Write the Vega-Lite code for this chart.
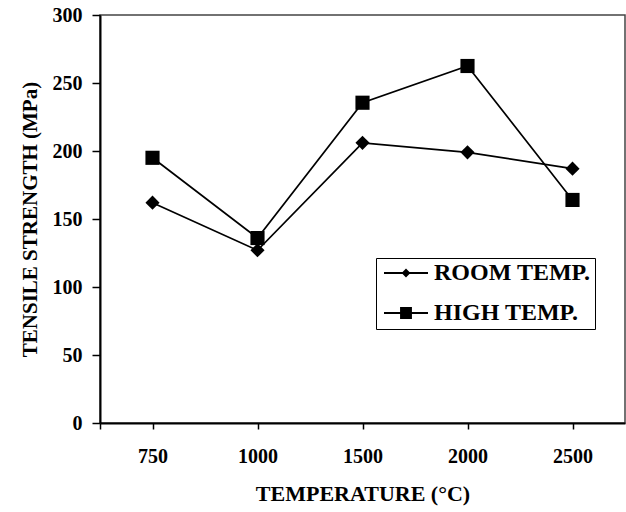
{
  "$schema": "https://vega.github.io/schema/vega-lite/v6.json",
  "width": 525,
  "height": 408,
  "autosize": "none",
  "padding": {"left": 100, "top": 15, "right": 1, "bottom": 89},
  "background": "white",
  "config": {
    "view": {"stroke": "#444", "strokeWidth": 1.5},
    "font": "Liberation Serif"
  },
  "data": {
    "values": [
      {"temperature": "750", "series": "ROOM TEMP.", "strength": 162},
      {"temperature": "1000", "series": "ROOM TEMP.", "strength": 127},
      {"temperature": "1500", "series": "ROOM TEMP.", "strength": 206},
      {"temperature": "2000", "series": "ROOM TEMP.", "strength": 199},
      {"temperature": "2500", "series": "ROOM TEMP.", "strength": 187},
      {"temperature": "750", "series": "HIGH TEMP.", "strength": 195},
      {"temperature": "1000", "series": "HIGH TEMP.", "strength": 136},
      {"temperature": "1500", "series": "HIGH TEMP.", "strength": 235.5},
      {"temperature": "2000", "series": "HIGH TEMP.", "strength": 262.5},
      {"temperature": "2500", "series": "HIGH TEMP.", "strength": 164}
    ]
  },
  "encoding": {
    "x": {
      "field": "temperature",
      "type": "ordinal",
      "sort": ["750", "1000", "1500", "2000", "2500"],
      "scale": {"paddingInner": 0, "paddingOuter": 0},
      "axis": {
        "title": "TEMPERATURE (°C)",
        "labelAngle": 0,
        "bandPosition": 0,
        "tickExtra": true,
        "domainColor": "black",
        "domainWidth": 2,
        "tickColor": "black",
        "tickWidth": 1.5,
        "tickSize": 6,
        "labelPadding": 17,
        "labelFont": "Liberation Serif",
        "labelFontWeight": "bold",
        "labelFontSize": 20,
        "labelColor": "black",
        "titleFont": "Liberation Serif",
        "titleFontWeight": "bold",
        "titleFontSize": 22,
        "titleColor": "black",
        "titlePadding": 17
      }
    },
    "y": {
      "field": "strength",
      "type": "quantitative",
      "scale": {"domain": [0, 300], "nice": false},
      "axis": {
        "title": "TENSILE STRENGTH (MPa)",
        "values": [0, 50, 100, 150, 200, 250, 300],
        "grid": false,
        "domainColor": "black",
        "domainWidth": 2,
        "tickColor": "black",
        "tickWidth": 1.5,
        "tickSize": 8,
        "labelPadding": 10,
        "labelFont": "Liberation Serif",
        "labelFontWeight": "bold",
        "labelFontSize": 20,
        "labelColor": "black",
        "titleFont": "Liberation Serif",
        "titleFontWeight": "bold",
        "titleFontSize": 21,
        "titleColor": "black",
        "titlePadding": 12
      }
    }
  },
  "layer": [
    {
      "mark": {"type": "line", "color": "black", "strokeWidth": 1.7},
      "encoding": {"detail": {"field": "series", "type": "nominal"}}
    },
    {
      "mark": {"type": "point", "filled": true, "color": "black", "opacity": 1, "size": 200},
      "encoding": {
        "shape": {
          "field": "series",
          "type": "nominal",
          "scale": {"domain": ["ROOM TEMP.", "HIGH TEMP."], "range": ["diamond", "square"]},
          "legend": null
        }
      }
    },
    {
      "mark": {"type": "point", "filled": true, "color": "black", "opacity": 1, "size": 0},
      "encoding": {
        "shape": {
          "field": "series",
          "type": "nominal",
          "scale": {
            "domain": ["ROOM TEMP.", "HIGH TEMP."],
            "range": [
              "M -1 -0.04 L 1 -0.04 L 1 0.04 L -1 0.04 Z M -0.2 0 L 0 -0.2 L 0.2 0 L 0 0.2 Z",
              "M -1 -0.04 L 1 -0.04 L 1 0.04 L -1 0.04 Z M -0.27 -0.27 L 0.27 -0.27 L 0.27 0.27 L -0.27 0.27 Z"
            ]
          },
          "legend": {
            "title": null,
            "orient": "none",
            "legendX": 276,
            "legendY": 243,
            "direction": "vertical",
            "strokeColor": "black",
            "fillColor": "white",
            "padding": 4,
            "symbolSize": 1936,
            "clipHeight": 22,
            "rowPadding": 16,
            "symbolFillColor": "black",
            "symbolStrokeColor": "black",
            "symbolStrokeWidth": 0,
            "symbolOpacity": 1,
            "symbolOffset": 4,
            "labelOffset": 6,
            "labelFont": "Liberation Serif",
            "labelFontWeight": "bold",
            "labelFontSize": 24,
            "labelColor": "black",
            "labelLimit": 300
          }
        }
      }
    }
  ],
  "resolve": {"scale": {"shape": "independent"}, "legend": {"shape": "independent"}}
}
